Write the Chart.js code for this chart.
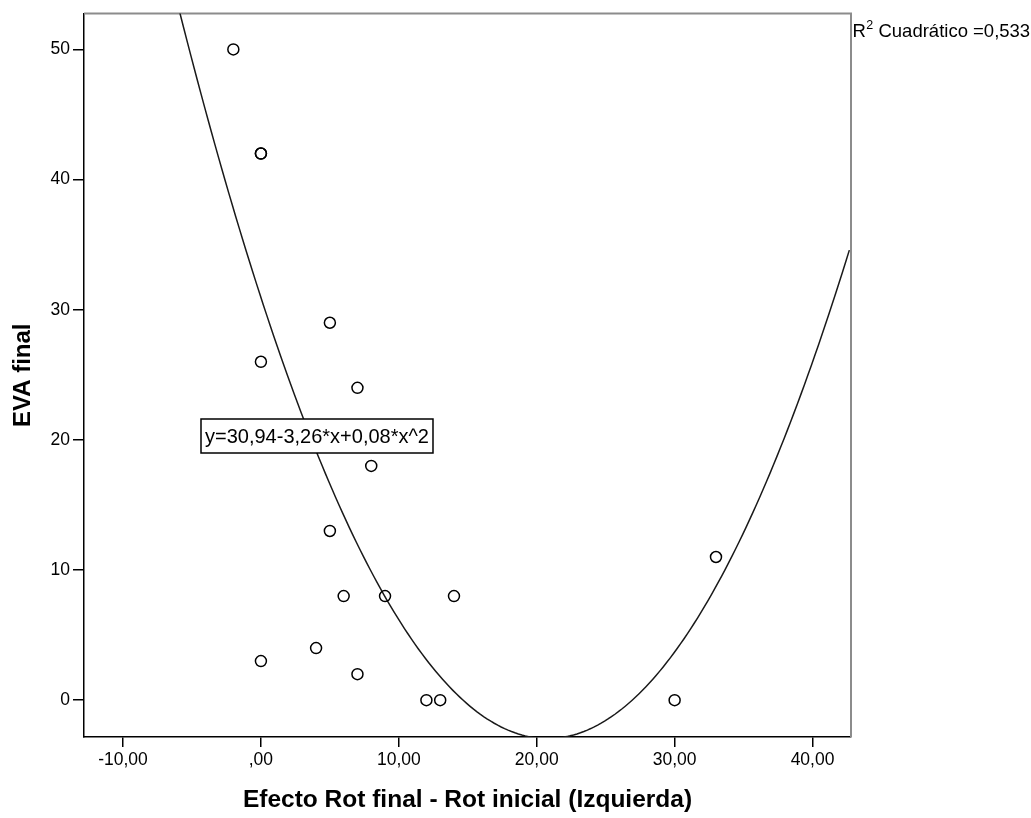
<!DOCTYPE html>
<html>
<head>
<meta charset="utf-8">
<script src="https://cdn.jsdelivr.net/npm/chart.js@4/dist/chart.umd.min.js"></script>
<style>
  html, body { margin: 0; padding: 0; background: #fff; }
  #wrap { width: 1031px; height: 818px; position: relative; }
</style>
</head>
<body>
<div id="wrap"><canvas id="c" width="1031" height="818"></canvas></div>
<script>
// ---- Data ----
const pointsX = [-2, 0, 0, 0, 0, 4, 5, 5, 6, 7, 7, 8, 9, 12, 13, 14, 30, 33];
const pointsY = [50, 42, 42, 26, 3, 4, 29, 13, 8, 24, 2, 18, 8, 0, 0, 8, 0, 11];

// Quadratic fit shown on the chart (y = b0 + b1*x + b2*x^2); b2 printed rounded as 0,08
const fitCoefficients = [30.94, -3.26, 0.0784];
const fitLabel = "y=30,94-3,26*x+0,08*x^2";
const r2Label = " Cuadrático =0,533";

const xTickValues = [-10, 0, 10, 20, 30, 40];
const xTickLabels = ["-10,00", ",00", "10,00", "20,00", "30,00", "40,00"];
const yTickValues = [0, 10, 20, 30, 40, 50];
const yTickLabels = ["0", "10", "20", "30", "40", "50"];

const xTitle = "Efecto Rot final - Rot inicial (Izquierda)";
const yTitle = "EVA final";

const xRange = [-12.83, 42.79];
const yRange = [-2.83, 52.76];

// ---- Build datasets ----
const scatterData = pointsX.map((x, i) => ({ x: x, y: pointsY[i] }));
const curveData = [];
for (let x = xRange[0]; x <= xRange[1] + 0.001; x += 0.25) {
  curveData.push({ x: x, y: fitCoefficients[0] + fitCoefficients[1] * x + fitCoefficients[2] * x * x });
}

const FONT = "'Liberation Sans', Arial, sans-serif";

const framePlugin = {
  id: 'frame',
  beforeDatasetsDraw(chart) {
    const { ctx, chartArea: a } = chart;
    ctx.save();
    ctx.strokeStyle = '#8c8c8c';
    ctx.lineWidth = 2;
    ctx.beginPath();
    ctx.moveTo(a.left, a.top);
    ctx.lineTo(a.right, a.top);
    ctx.lineTo(a.right, a.bottom);
    ctx.stroke();
    ctx.restore();
  },
  afterDatasetsDraw(chart) {
    const { ctx, chartArea: a } = chart;
    ctx.save();
    // equation box
    ctx.font = "20px " + FONT;
    const w = ctx.measureText(fitLabel).width;
    const bx = 201, by = 419, bh = 34, bw = w + 8;
    ctx.fillStyle = '#fff';
    ctx.fillRect(bx, by, bw, bh);
    ctx.strokeStyle = '#000';
    ctx.lineWidth = 1.5;
    ctx.strokeRect(bx, by, bw, bh);
    ctx.fillStyle = '#000';
    ctx.textBaseline = 'middle';
    ctx.textAlign = 'left';
    ctx.fillText(fitLabel, bx + 4, by + bh / 2 + 1);

    // R^2 label outside the plot, top right
    const rx = a.right + 1.5, ry = 32;
    ctx.font = "18.5px " + FONT;
    ctx.fillText("R", rx, ry);
    const rw = ctx.measureText("R").width;
    ctx.font = "12.5px " + FONT;
    ctx.fillText("2", rx + rw + 0.5, ry - 6);
    const sw = ctx.measureText("2").width;
    ctx.font = "18.5px " + FONT;
    ctx.fillText(r2Label, rx + rw + sw + 0.5, ry);
    ctx.restore();
  }
};

new Chart(document.getElementById('c'), {
  data: {
    datasets: [
      {
        type: 'line',
        data: curveData,
        borderColor: '#1a1a1a',
        borderWidth: 1.5,
        pointRadius: 0,
        tension: 0,
        fill: false,
        order: 2
      },
      {
        type: 'scatter',
        data: scatterData,
        pointStyle: 'circle',
        pointRadius: 5.5,
        pointHoverRadius: 5.5,
        borderColor: '#000',
        borderWidth: 1.5,
        backgroundColor: 'rgba(255,255,255,0)',
        order: 1
      }
    ]
  },
  options: {
    responsive: false,
    animation: false,
    events: [],
    layout: { padding: { top: 11, right: 180, left: 0, bottom: 0 } },
    plugins: { legend: { display: false }, tooltip: { enabled: false } },
    scales: {
      x: {
        type: 'linear',
        min: xRange[0],
        max: xRange[1],
        afterBuildTicks(scale) { scale.ticks = xTickValues.map(v => ({ value: v })); },
        afterFit(scale) { scale.height = 81; },
        ticks: {
          color: '#000',
          font: { family: FONT, size: 17.5 },
          padding: 3,
          maxRotation: 0,
          autoSkip: false,
          callback: (v) => xTickLabels[xTickValues.indexOf(v)]
        },
        grid: { display: true, drawOnChartArea: false, drawTicks: true, tickLength: 10, color: '#000', lineWidth: 1.5 },
        border: { display: true, color: '#000', width: 1.5 },
        title: {
          display: true,
          text: xTitle,
          color: '#000',
          font: { family: FONT, size: 24.5, weight: 'bold', lineHeight: 1 },
          padding: { top: 0, bottom: 6 }
        }
      },
      y: {
        type: 'linear',
        min: yRange[0],
        max: yRange[1],
        afterBuildTicks(scale) { scale.ticks = yTickValues.map(v => ({ value: v })); },
        afterFit(scale) { scale.width = 84; },
        ticks: {
          color: '#000',
          font: { family: FONT, size: 17.5 },
          padding: 3,
          autoSkip: false,
          callback: (v) => yTickLabels[yTickValues.indexOf(v)]
        },
        grid: { display: true, drawOnChartArea: false, drawTicks: true, tickLength: 11, color: '#000', lineWidth: 1.5 },
        border: { display: true, color: '#000', width: 1.5 },
        title: {
          display: true,
          text: yTitle,
          color: '#000',
          font: { family: FONT, size: 24, weight: 'bold', lineHeight: 1 },
          padding: { top: 11, bottom: 0 }
        }
      }
    }
  },
  plugins: [framePlugin]
});
</script>
</body>
</html>
